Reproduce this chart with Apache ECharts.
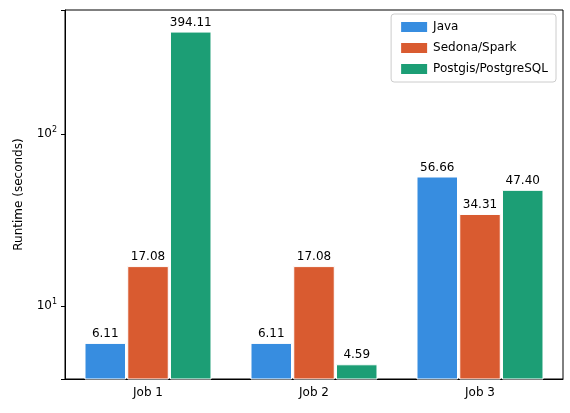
<!DOCTYPE html>
<html><head><meta charset="utf-8">
<script src="https://cdn.jsdelivr.net/npm/echarts@6/dist/echarts.min.js"></script>
<style>html,body{margin:0;background:#fff}#c{width:570px;height:413px}</style>
</head><body><div id="c"></div>
<script>
const categories = ['Job 1', 'Job 2', 'Job 3'];
const javaValues = [6.11, 6.11, 56.66];
const sedonaValues = [17.08, 17.08, 34.31];
const postgisValues = [394.11, 4.59, 47.40];

const chart = echarts.init(document.getElementById('c'));
const font = 'DejaVu Sans';
const mk = (name, data, color) => ({
  name, type: 'bar', data, barWidth: '25%', barGap: '3%',
  itemStyle: { color, borderColor: '#fff', borderWidth: 1 },
  label: { show: true, position: 'top', distance: 3, color: '#000', fontFamily: font, fontSize: 12,
    formatter: p => p.value.toFixed(2) }
});
chart.setOption({
  animation: false,
  textStyle: { fontFamily: font },
  grid: { left: 65, right: 7, top: 10, bottom: 34, show: true, borderColor: '#000', borderWidth: 1 },
  legend: {
    orient: 'vertical', right: 14, top: 14, itemWidth: 28, itemHeight: 12, itemGap: 7,
    borderColor: '#ccc', borderWidth: 1, borderRadius: 3, padding: [6, 8, 6, 8],
    textStyle: { fontFamily: font, fontSize: 12, color: '#000' },
    icon: 'rect'
  },
  xAxis: {
    type: 'category', data: categories,
    axisLine: { lineStyle: { color: '#000' } },
    axisTick: { alignWithLabel: true, lineStyle: { color: '#000' } },
    axisLabel: { color: '#000', fontSize: 12, margin: 8 }
  },
  yAxis: {
    type: 'log', logBase: 10, min: () => 3.77, max: () => 526,
    name: 'Runtime (seconds)', nameLocation: 'middle', nameGap: 40,
    nameTextStyle: { color: '#000', fontSize: 12 },
    splitLine: { show: false },
    axisLine: { show: true, lineStyle: { color: '#000' } },
    axisTick: { show: true, length: 4, lineStyle: { color: '#000' } },
    axisLabel: {
      color: '#000', fontSize: 12,
      formatter: v => {
        const e = Math.round(Math.log10(v));
        if (Math.abs(Math.log10(v) - e) > 1e-6) return '';
        return '{b|10}{s|' + e + '}';
      },
      rich: { b: { fontSize: 12, color: '#000' }, s: { fontSize: 8, color: '#000', verticalAlign: 'top', padding: [0, 0, 8, 0] } }
    }
  },
  series: [
    mk('Java', javaValues, '#378de0'),
    mk('Sedona/Spark', sedonaValues, '#d95b30'),
    mk('Postgis/PostgreSQL', postgisValues, '#1c9e75')
  ]
});
</script></body></html>
